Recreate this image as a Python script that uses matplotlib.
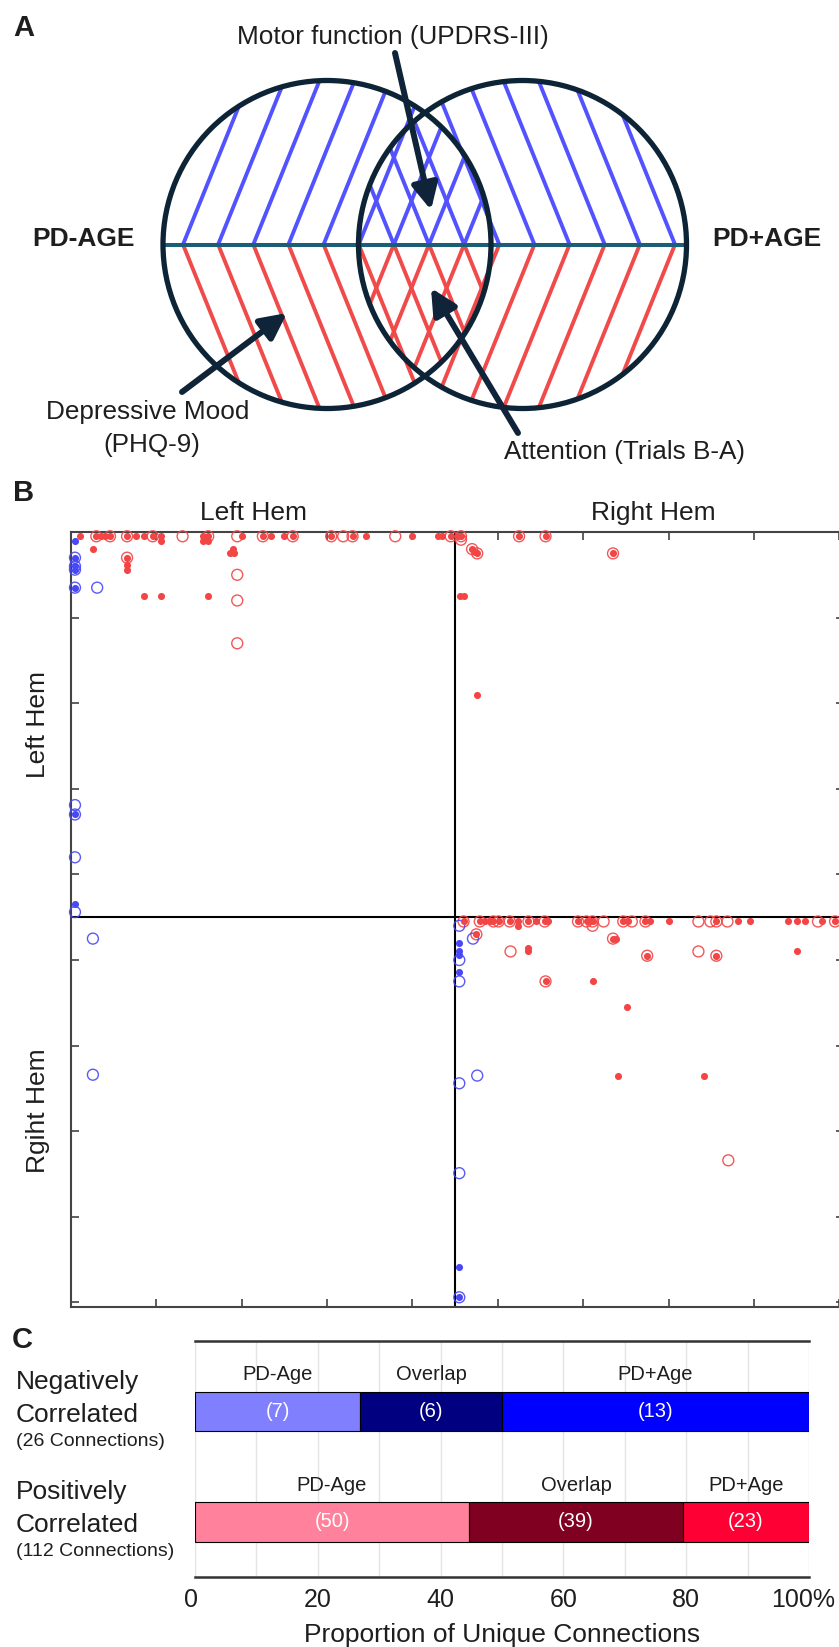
import numpy as np
import matplotlib
matplotlib.use('Agg')
import matplotlib.pyplot as plt
from matplotlib.patches import Circle
from matplotlib.transforms import ScaledTranslation

plt.rcParams['font.family'] = ['Liberation Sans', 'DejaVu Sans']

# ---------------- Panel B data (connection matrix coordinates, 0..90 ROIs) ----------------
# red = positively correlated; dot = PD-Age only, ring = PD+Age only, both = overlap
pos_dot_x = [1.1, 3.6, 4.0, 7.6, 8.6, 10.6, 10.6, 15.5, 15.5, 16.1, 20.1, 23.5, 25.0, 34.6, 40.0, 43.0, 43.5, 45.3,
             2.6, 6.6, 6.6, 18.6, 19.0, 19.1, 8.6, 10.6, 16.1, 47.3, 45.6, 46.1, 47.6,
             48.5, 49.1, 52.4, 52.4, 54.5, 55.9, 60.8, 65.2, 67.8, 70.0, 78.1, 79.5, 84.0, 85.0, 86.0, 88.0,
             53.5, 53.5, 63.9, 85.0, 61.1, 65.1, 64.1, 74.1]
pos_dot_y = [0.5, 0.5, 0.5, 0.5, 0.5, 0.5, 1.0, 0.5, 1.0, 1.0, 0.5, 0.5, 0.5, 0.5, 0.5, 0.5, 0.5, 0.5,
             2.0, 3.9, 4.4, 2.5, 2.0, 2.5, 7.5, 7.5, 7.5, 2.3, 7.5, 7.5, 19.0,
             45.5, 45.5, 45.5, 46.0, 45.5, 45.5, 45.5, 45.5, 45.5, 45.5, 45.5, 45.5, 45.5, 45.5, 45.5, 45.5,
             48.6, 49.0, 47.5, 49.0, 52.5, 55.5, 63.5, 63.5]
pos_ring_x = [13.1, 19.5, 31.9, 38.0, 45.7, 19.5, 19.5, 19.5,
              61.1, 62.4, 65.7, 73.5, 74.9, 76.9, 87.5, 51.5, 73.5, 77.0]
pos_ring_y = [0.5, 0.5, 0.5, 0.5, 0.9, 5.0, 8.0, 13.0,
              46.0, 45.5, 45.5, 45.5, 45.5, 45.5, 45.5, 49.0, 49.0, 73.4]
pos_both_x = [3.0, 4.6, 6.6, 9.6, 16.1, 22.5, 26.0, 30.5, 33.0, 44.5, 45.7, 52.5, 55.6,
              6.6, 47.0, 47.6, 63.5,
              46.0, 47.9, 49.5, 50.1, 51.4, 53.6, 55.5, 59.4, 60.4, 61.1, 64.7, 67.3, 75.6, 89.5,
              47.5, 63.5, 67.5, 75.6, 55.6]
pos_both_y = [0.5, 0.5, 0.5, 0.5, 0.5, 0.5, 0.5, 0.5, 0.5, 0.5, 0.5, 0.5, 0.5,
              3.0, 2.0, 2.5, 2.5,
              45.5, 45.5, 45.5, 45.5, 45.5, 45.5, 45.5, 45.5, 45.5, 45.5, 45.5, 45.5, 45.5, 45.5,
              47.0, 47.5, 49.5, 49.5, 52.5]

# blue = negatively correlated
neg_dot_x = [0.5, 0.5, 45.5, 45.5, 45.5, 45.5, 45.5]
neg_dot_y = [1.0, 43.5, 48.0, 49.0, 49.4, 51.4, 85.9]
neg_ring_x = [3.1, 0.5, 0.5, 0.5, 2.6, 2.6, 45.5, 47.1, 45.5, 45.5, 47.6, 45.5, 45.5]
neg_ring_y = [6.5, 31.9, 38.0, 44.4, 47.5, 63.4, 46.0, 47.5, 50.0, 52.5, 63.5, 64.4, 74.9]
neg_both_x = [0.5, 0.5, 0.5, 0.5, 0.5, 45.5]
neg_both_y = [3.0, 4.0, 4.4, 6.5, 33.0, 89.4]

matrix_ticks = [10, 20, 30, 40, 50, 60, 70, 80, 90]
hem_split = 45
hem_labels = ['Left Hem', 'Right Hem']
hem_ylabels = ['Left Hem', 'Rgiht Hem']

# ---------------- Panel C data ----------------
groups = ['Negatively\nCorrelated', 'Positively\nCorrelated']
group_notes = ['(26 Connections)', '(112 Connections)']
seg_names = ['PD-Age', 'Overlap', 'PD+Age']
neg_counts = [7, 6, 13]
pos_counts = [50, 39, 23]
neg_colors = ['#8080ff', '#000080', '#0000ff']
pos_colors = ['#ff819c', '#7f0020', '#ff0035']
x_ticks = [0, 20, 40, 60, 80, 100]
x_ticklabels = ['0', '20', '40', '60', '80', '100%']

RED = '#f24545'
BLUE = '#4848f7'
DARK = '#0d2436'
TXT = '#1e1e1e'

W, H = 839, 1647
fig = plt.figure(figsize=(W / 100, H / 100), dpi=100)

# pixel-coordinate overlay axes (for panel A and free text)
axp = fig.add_axes([0, 0, 1, 1])
axp.set_xlim(0, W)
axp.set_ylim(H, 0)
axp.set_axis_off()

# ---------------- Panel A: Venn schematic ----------------
cy = 244.5
r = 164.0
cL, cR = 327.0, 522.5
theta = np.deg2rad(68)
L = 420
bases = np.linspace(183, 675, 15)
blue_h = '#5252ff'
red_h = '#f04a4a'
for cx, sgn in [(cL, 1), (cR, -1)]:
    clip = Circle((cx, cy), r - 1, transform=axp.transData)
    for xb in bases:
        if abs(xb - cx) >= r - 3:
            continue
        for col, vs in [(blue_h, -1), (red_h, 1)]:
            ln, = axp.plot([xb, xb + sgn * L * np.cos(theta)], [cy, cy + vs * L * np.sin(theta)],
                           color=col, lw=2.8, solid_capstyle='butt', zorder=2)
            ln.set_clip_path(clip)

axp.plot([cL - r, cR + r], [cy, cy], color='#1c5d78', lw=2.9, zorder=3, solid_capstyle='butt')
for cx in (cL, cR):
    axp.add_patch(Circle((cx, cy), r, fill=False, ec=DARK, lw=3.8, zorder=4))

arrow_kw = dict(arrowstyle='-|>,head_length=0.6,head_width=0.3', lw=4.3, color='#0f2438',
                shrinkA=0, shrinkB=0, mutation_scale=26)
axp.annotate('', xy=(431, 210), xytext=(395, 53), arrowprops=arrow_kw, zorder=6)
axp.annotate('', xy=(287, 313), xytext=(182, 392), arrowprops=arrow_kw, zorder=6)
axp.annotate('', xy=(431, 288), xytext=(518, 433), arrowprops=arrow_kw, zorder=6)

axp.text(393, 37, 'Motor function (UPDRS-III)', fontsize=18.8, ha='center', va='center', color=TXT)
axp.text(84, 239, 'PD-AGE', fontsize=19, fontweight='bold', ha='center', va='center', color=TXT)
axp.text(767, 239, 'PD+AGE', fontsize=19, fontweight='bold', ha='center', va='center', color=TXT)
axp.text(148, 412, 'Depressive Mood', fontsize=18.8, ha='center', va='center', color=TXT)
axp.text(152, 445, '(PHQ-9)', fontsize=18.8, ha='center', va='center', color=TXT)
axp.text(625, 452, 'Attention (Trials B-A)', fontsize=18.8, ha='center', va='center', color=TXT)

# panel letters
axp.text(24, 28, 'A', fontsize=21, fontweight='bold', ha='center', va='center', color=TXT)
axp.text(24, 493, 'B', fontsize=21, fontweight='bold', ha='center', va='center', color=TXT)
axp.text(22, 1340, 'C', fontsize=21, fontweight='bold', ha='center', va='center', color=TXT)

# ---------------- Panel B: connection matrix ----------------
bl, bt = 70.7, 532.0
bw, bh = 772.9, 774.7
axb = fig.add_axes([bl / W, 1 - (bt + bh) / H, bw / W, bh / H])
axb.set_xlim(0, 90.5)
axb.set_ylim(90.5, 0)
axb.set_xticks(matrix_ticks)
axb.set_yticks(matrix_ticks)
axb.tick_params(direction='in', length=5.8, width=1.1, top=True, right=True, bottom=True, left=True,
                labelbottom=False, labelleft=False, colors='#333333')
for sp in axb.spines.values():
    sp.set_color('#444444')
    sp.set_linewidth(1.5)
axb.axvline(hem_split, color='black', lw=1.5, zorder=1)
axb.axhline(hem_split, color='black', lw=1.5, zorder=1)

dot_s, ring_s = 26, 62
for col, (dx, dy), (rx, ry), (bx, by) in [
        (RED, (pos_dot_x, pos_dot_y), (pos_ring_x, pos_ring_y), (pos_both_x, pos_both_y)),
        (BLUE, (neg_dot_x, neg_dot_y), (neg_ring_x, neg_ring_y), (neg_both_x, neg_both_y))]:
    axb.scatter(rx + bx, ry + by, s=ring_s, facecolors='none', edgecolors=col, linewidths=1.0,
                alpha=0.9, zorder=3, clip_on=False)
    axb.scatter(dx + bx, dy + by, s=dot_s, color=col, linewidths=0, zorder=4, clip_on=False)

axp.text(253, 513, hem_labels[0], fontsize=19, ha='center', va='center', color=TXT)
axp.text(653, 513, hem_labels[1], fontsize=19, ha='center', va='center', color=TXT)
axp.text(38, 724.5, hem_ylabels[0], fontsize=19, ha='center', va='center', rotation=90, color=TXT)
axp.text(38, 1111, hem_ylabels[1], fontsize=19, ha='center', va='center', rotation=90, color=TXT)

# ---------------- Panel C: stacked proportions ----------------
cl, ct, cw, ch = 195.0, 1341.0, 614.0, 236.0
axc = fig.add_axes([cl / W, 1 - (ct + ch) / H, cw / W, ch / H])
axc.set_xlim(0, 100)
axc.set_ylim(1.5, -0.645)
bar_h = 0.355
for yi, counts, cols in [(0, neg_counts, neg_colors), (1, pos_counts, pos_colors)]:
    total = sum(counts)
    pct = [c / total * 100 for c in counts]
    left = 0
    for name, c, p, col in zip(seg_names, counts, pct, cols):
        axc.barh(yi, p, left=left, height=bar_h, color=col, edgecolor='black', linewidth=0.8, zorder=3)
        mid = left + p / 2
        axc.text(mid, yi, f'({c})', color='white', fontsize=14.5, ha='center', va='center', zorder=4)
        axc.text(mid, yi - 0.336, name, color=TXT, fontsize=14.5, ha='center', va='center', zorder=4)
        left += p

axc.set_xticks(x_ticks)
axc.set_xticklabels(x_ticklabels, fontsize=18, color=TXT)
axc.set_xticks(np.arange(0, 101, 10), minor=True)
axc.set_yticks([])
axc.tick_params(axis='x', which='both', length=0, pad=8)
labs = axc.get_xticklabels()
labs[0].set_transform(labs[0].get_transform() + ScaledTranslation(-0.04, 0, fig.dpi_scale_trans))
labs[-1].set_transform(labs[-1].get_transform() + ScaledTranslation(-0.06, 0, fig.dpi_scale_trans))
axc.grid(True, which='both', axis='x', color='#e4e4e4', lw=1.0)
axc.set_axisbelow(True)
for side in ('left', 'right'):
    axc.spines[side].set_visible(False)
for side in ('top', 'bottom'):
    axc.spines[side].set_color('#333333')
    axc.spines[side].set_linewidth(1.8)
axc.set_xlabel('Proportion of Unique Connections', fontsize=19, color=TXT, labelpad=8)

for (g, note), y1, y3 in zip(zip(groups, group_notes), [1382, 1492], [1442, 1552]):
    l1, l2 = g.split('\n')
    axp.text(16, y1, l1, fontsize=19, ha='left', va='center', color=TXT)
    axp.text(16, y1 + 33, l2, fontsize=19, ha='left', va='center', color=TXT)
    axp.text(16, y3, note, fontsize=14, ha='left', va='center', color=TXT)

fig.savefig('out.png', dpi=100)
